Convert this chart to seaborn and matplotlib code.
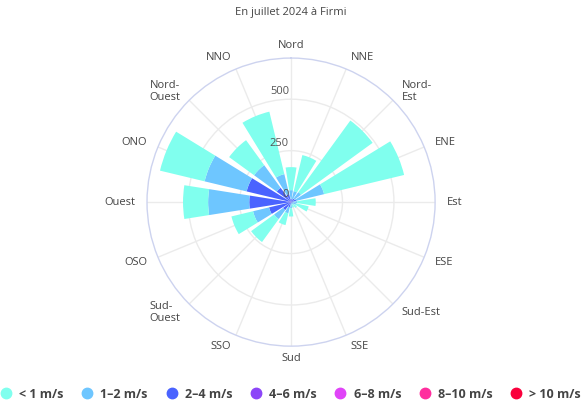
# -*- coding: utf-8 -*-
# Rose des vents - juillet 2024 a Firmi
import matplotlib
matplotlib.use("Agg")
import matplotlib.pyplot as plt
from matplotlib.lines import Line2D
import numpy as np
import seaborn as sns

# data
#==============================================================================
directions = ["Nord", "NNE", "Nord-\nEst", "ENE", "Est", "ESE", "Sud-Est", "SSE",
              "Sud", "SSO", "Sud-\nOuest", "OSO", "Ouest", "ONO", "Nord-\nOuest", "NNO"]
speed_labels = ["< 1 m/s", "1–2 m/s", "2–4 m/s", "4–6 m/s", "6–8 m/s", "8–10 m/s", "> 10 m/s"]
speed_colors = ["#80FFEE", "#6EC6FF", "#4A63FF", "#8C46F8", "#E044F8", "#FF2E9E", "#FA003C"]

lt1 = [112, 180, 430, 400, 90, 63, 20, 16, 40, 59, 138, 108, 122, 223, 150, 312]
v1_2 = [43, 40, 40, 140, 22, 17, 10, 8, 20, 31, 54, 80, 200, 210, 136, 100]
v2_4 = [12, 13, 18, 22, 7, 7, 4, 4, 9, 23, 45, 104, 193, 213, 81, 37]
v4_6 = [3, 2, 2, 3, 1, 1, 1, 0, 1, 2, 3, 5, 8, 7, 4, 3]
v6_8 = [0, 0, 0, 0, 0, 0, 0, 0, 0, 0, 0, 1, 2, 2, 1, 0]
v8_10 = [0] * 16
gt10 = [0] * 16

radial_ticks = [0, 250, 500]
r_max = 700

sns.set_theme(style="white")
plt.rcParams["font.family"] = ["Open Sans", "DejaVu Sans"]

fig = plt.figure(figsize=(5.82, 4.03), dpi=100)
ax = fig.add_axes([0.2526, 0.141, 0.495, 0.715], projection="polar")
ax.set_theta_zero_location("N")
ax.set_theta_direction(-1)

theta = np.deg2rad(np.arange(16) * 22.5)
width = np.deg2rad(18)

# stack from the fastest class (inside) to the slowest (outside)
series = [lt1, v1_2, v2_4, v4_6, v6_8, v8_10, gt10]
base = np.zeros(16)
for vals, col in reversed(list(zip(series, speed_colors))):
    vals = np.array(vals, dtype=float)
    ax.bar(theta, vals, width=width, bottom=base, color=col, edgecolor="none", zorder=2)
    base = base + vals

ax.set_ylim(0, r_max)
ax.set_rgrids([250, 500], labels=["", ""])
ax.set_thetagrids(np.arange(16) * 22.5, labels=[""] * 16)
ax.grid(True, color="#ebebeb", linewidth=1)
ax.set_axisbelow(True)
ax.spines["polar"].set_color("#cdd3ef")
ax.spines["polar"].set_linewidth(1)
ax.tick_params(length=0)

# radial tick labels along the north axis
for r in radial_ticks:
    ax.annotate(str(r), xy=(0, r), xytext=(-2, 2), textcoords="offset pixels",
                ha="right", va="bottom", fontsize=8, color="#555", zorder=3)

# angular labels, anchored by their angle
for t, lab in zip(theta, directions):
    s, c = np.sin(t), np.cos(t)
    ha = "left" if s > 0.1 else ("right" if s < -0.1 else "center")
    ax.annotate(lab, xy=(t, r_max), xytext=(12 * s, c * 12.5), textcoords="offset pixels",
                ha=ha, va="center", fontsize=8, color="#444", annotation_clip=False,
                multialignment="left", linespacing=1.1)

fig.text(0.5, 1 - 12 / 403, "En juillet 2024 à Firmi", ha="center", va="center",
         fontsize=8, color="#444")

handles = [Line2D([], [], marker="o", ls="", markersize=7.5, markerfacecolor=c,
                  markeredgecolor=c) for c in speed_colors]
fig.legend(handles, speed_labels, loc="center", bbox_to_anchor=(0.5, 9 / 403), ncol=7,
           frameon=False, handlelength=0.8, handletextpad=0.65, columnspacing=1.5,
           prop={"weight": "bold", "size": 9}, labelcolor="#444")

fig.savefig("out.png", dpi=100)
